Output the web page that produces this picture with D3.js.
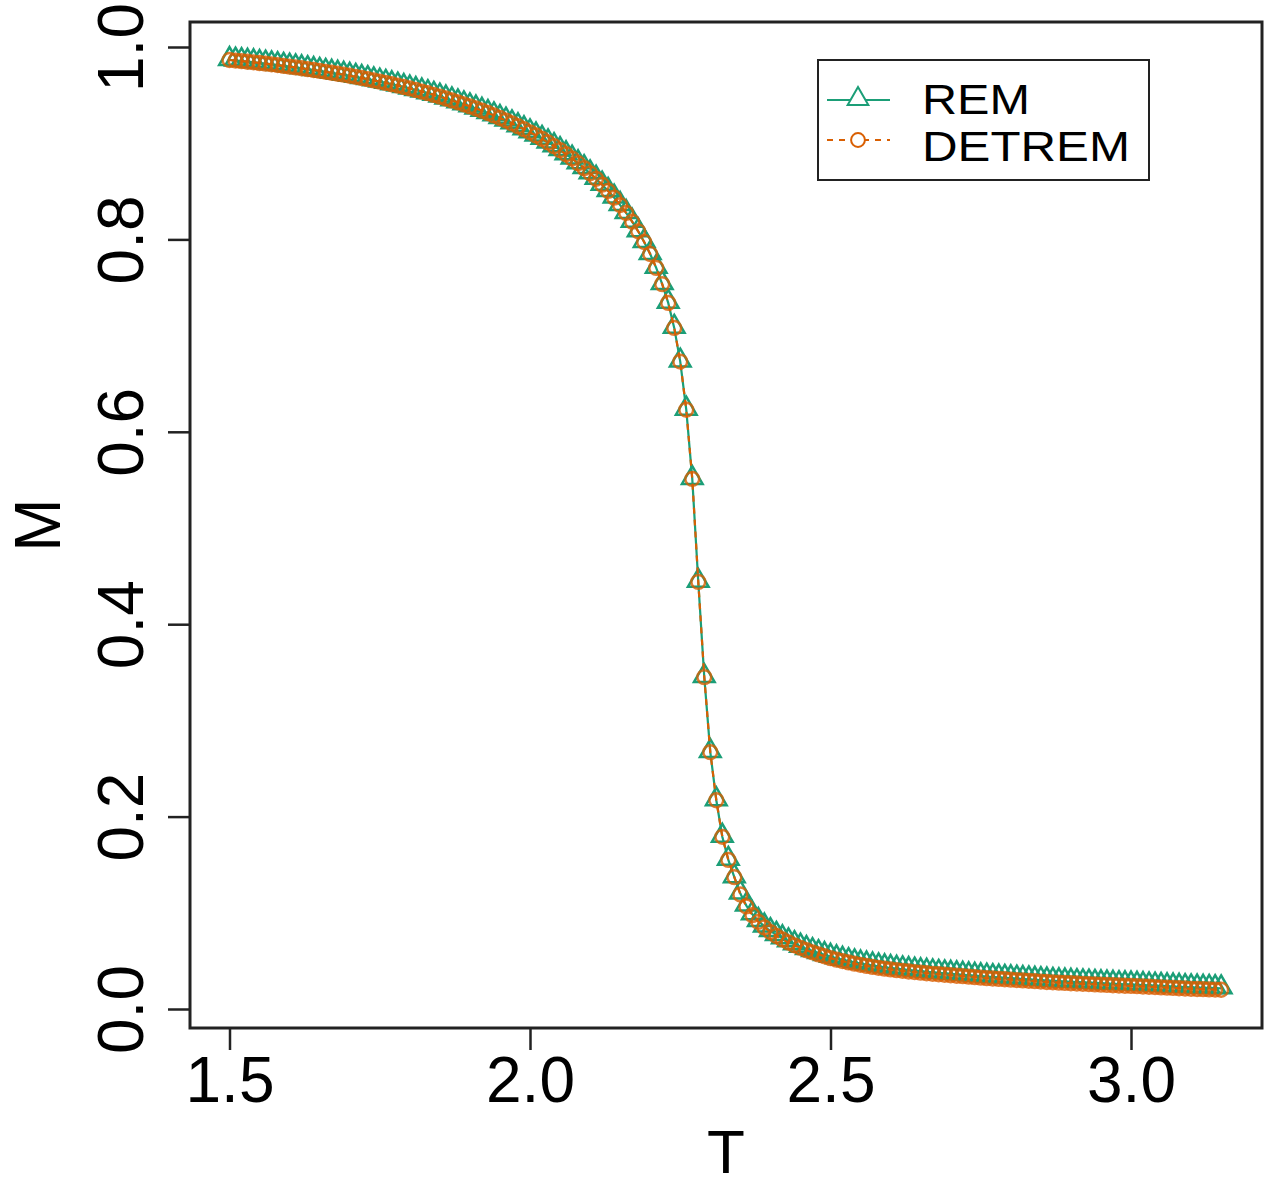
<!DOCTYPE html>
<html>
<head>
<meta charset="utf-8">
<script src="https://cdn.jsdelivr.net/npm/d3@7"></script>
<style>
  html, body { margin: 0; padding: 0; background: #ffffff; }
  svg { display: block; }
  text { font-family: "Liberation Sans", Arial, Helvetica, sans-serif; fill: #000; }
</style>
</head>
<body>
<svg id="chart" width="1272" height="1188"></svg>
<script>
// ---- data ----
const temperature = [
  1.50,1.51,1.52,1.53,1.54,1.55,1.56,1.57,1.58,1.59,
  1.60,1.61,1.62,1.63,1.64,1.65,1.66,1.67,1.68,1.69,
  1.70,1.71,1.72,1.73,1.74,1.75,1.76,1.77,1.78,1.79,
  1.80,1.81,1.82,1.83,1.84,1.85,1.86,1.87,1.88,1.89,
  1.90,1.91,1.92,1.93,1.94,1.95,1.96,1.97,1.98,1.99,
  2.00,2.01,2.02,2.03,2.04,2.05,2.06,2.07,2.08,2.09,
  2.10,2.11,2.12,2.13,2.14,2.15,2.16,2.17,2.18,2.19,
  2.20,2.21,2.22,2.23,2.24,2.25,2.26,2.27,2.28,2.29,
  2.30,2.31,2.32,2.33,2.34,2.35,2.36,2.37,2.38,2.39,
  2.40,2.41,2.42,2.43,2.44,2.45,2.46,2.47,2.48,2.49,
  2.50,2.51,2.52,2.53,2.54,2.55,2.56,2.57,2.58,2.59,
  2.60,2.61,2.62,2.63,2.64,2.65,2.66,2.67,2.68,2.69,
  2.70,2.71,2.72,2.73,2.74,2.75,2.76,2.77,2.78,2.79,
  2.80,2.81,2.82,2.83,2.84,2.85,2.86,2.87,2.88,2.89,
  2.90,2.91,2.92,2.93,2.94,2.95,2.96,2.97,2.98,2.99,
  3.00,3.01,3.02,3.03,3.04,3.05,3.06,3.07,3.08,3.09,
  3.10,3.11,3.12,3.13,3.14,3.15
];

const remM = [
  0.9865,0.9859,0.9853,0.9847,0.9841,0.9834,0.9827,0.9820,0.9812,0.9804,
  0.9796,0.9788,0.9779,0.9770,0.9761,0.9752,0.9742,0.9732,0.9722,0.9712,
  0.9701,0.9690,0.9678,0.9666,0.9653,0.9640,0.9627,0.9613,0.9599,0.9584,
  0.9569,0.9553,0.9537,0.9520,0.9502,0.9484,0.9465,0.9445,0.9425,0.9404,
  0.9383,0.9361,0.9338,0.9314,0.9289,0.9262,0.9235,0.9206,0.9176,0.9145,
  0.9113,0.9080,0.9045,0.9008,0.8969,0.8928,0.8885,0.8840,0.8792,0.8741,
  0.8687,0.8630,0.8569,0.8504,0.8434,0.8357,0.8275,0.8184,0.8084,0.7973,
  0.7848,0.7704,0.7535,0.7340,0.7080,0.6730,0.6230,0.5510,0.4440,0.3450,
  0.2670,0.2170,0.1790,0.1550,0.1370,0.1200,0.1075,0.0985,0.0915,0.0858,
  0.0810,0.0770,0.0735,0.0703,0.0674,0.0648,0.0624,0.0602,0.0581,0.0561,
  0.0543,0.0527,0.0512,0.0498,0.0485,0.0473,0.0462,0.0452,0.0443,0.0434,
  0.0426,0.0419,0.0412,0.0405,0.0399,0.0393,0.0387,0.0381,0.0376,0.0371,
  0.0366,0.0361,0.0356,0.0351,0.0346,0.0341,0.0336,0.0332,0.0328,0.0324,
  0.0320,0.0316,0.0312,0.0308,0.0304,0.0300,0.0296,0.0292,0.0289,0.0286,
  0.0283,0.0280,0.0277,0.0274,0.0271,0.0268,0.0265,0.0262,0.0259,0.0257,
  0.0255,0.0252,0.0249,0.0246,0.0243,0.0240,0.0237,0.0234,0.0231,0.0228,
  0.0225,0.0223,0.0221,0.0219,0.0217,0.0215
];

const detremM = [
  0.9865,0.9859,0.9853,0.9847,0.9841,0.9834,0.9827,0.9820,0.9812,0.9804,
  0.9796,0.9788,0.9779,0.9770,0.9761,0.9752,0.9742,0.9732,0.9722,0.9712,
  0.9701,0.9690,0.9678,0.9666,0.9653,0.9640,0.9627,0.9613,0.9599,0.9584,
  0.9569,0.9553,0.9537,0.9520,0.9502,0.9484,0.9465,0.9445,0.9425,0.9404,
  0.9383,0.9361,0.9338,0.9314,0.9289,0.9262,0.9235,0.9206,0.9176,0.9145,
  0.9113,0.9080,0.9045,0.9008,0.8969,0.8928,0.8885,0.8840,0.8792,0.8741,
  0.8687,0.8630,0.8569,0.8504,0.8434,0.8357,0.8275,0.8184,0.8084,0.7973,
  0.7848,0.7704,0.7535,0.7340,0.7080,0.6730,0.6230,0.5510,0.4440,0.3450,
  0.2670,0.2170,0.1790,0.1550,0.1370,0.1190,0.1066,0.0976,0.0905,0.0848,
  0.0800,0.0759,0.0723,0.0691,0.0662,0.0636,0.0611,0.0589,0.0568,0.0548,
  0.0529,0.0513,0.0498,0.0484,0.0471,0.0459,0.0448,0.0438,0.0428,0.0419,
  0.0411,0.0404,0.0397,0.0390,0.0384,0.0378,0.0372,0.0366,0.0361,0.0356,
  0.0351,0.0346,0.0341,0.0336,0.0331,0.0326,0.0321,0.0317,0.0313,0.0309,
  0.0305,0.0301,0.0297,0.0293,0.0289,0.0285,0.0281,0.0277,0.0274,0.0271,
  0.0268,0.0265,0.0262,0.0259,0.0256,0.0253,0.0250,0.0247,0.0244,0.0242,
  0.0240,0.0237,0.0234,0.0231,0.0228,0.0225,0.0222,0.0219,0.0216,0.0213,
  0.0210,0.0208,0.0206,0.0204,0.0202,0.0200
];

const xTicks = [1.5, 2.0, 2.5, 3.0];
const xTickLabels = ["1.5", "2.0", "2.5", "3.0"];
const yTicks = [0.0, 0.2, 0.4, 0.6, 0.8, 1.0];
const yTickLabels = ["0.0", "0.2", "0.4", "0.6", "0.8", "1.0"];
const seriesNames = ["REM", "DETREM"];
const seriesColors = ["#1B9E77", "#D95F02"];

// ---- layout ----
const box = { left: 190, right: 1262, top: 22, bottom: 1028 };
const svg = d3.select("#chart");

const x = d3.scaleLinear().domain([1.5, 3.0]).range([229.5, 1131]);
const y = d3.scaleLinear().domain([0, 1]).range([1009, 47]);

// plot box
svg.append("rect")
  .attr("x", box.left).attr("y", box.top)
  .attr("width", box.right - box.left).attr("height", box.bottom - box.top)
  .attr("fill", "none").attr("stroke", "#222").attr("stroke-width", 3);

// x axis
const xAxis = d3.axisBottom(x).tickValues(xTicks)
  .tickFormat((d, i) => xTickLabels[i]).tickSize(22).tickSizeOuter(0);
const gx = svg.append("g").attr("transform", `translate(0,${box.bottom})`).call(xAxis);
gx.select(".domain").remove();
gx.selectAll(".tick line").attr("stroke", "#222").attr("stroke-width", 2.5);
gx.selectAll(".tick text")
  .attr("y", 0).attr("dy", null)
  .attr("transform", "translate(0,74)")
  .style("font-size", "64px")
  .style("font-family", '"Liberation Sans", Arial, sans-serif')
  .attr("fill", "#000");

// y axis
const yAxis = d3.axisLeft(y).tickValues(yTicks)
  .tickFormat((d, i) => yTickLabels[i]).tickSize(22).tickSizeOuter(0);
const gy = svg.append("g").attr("transform", `translate(${box.left},0)`).call(yAxis);
gy.select(".domain").remove();
gy.selectAll(".tick line").attr("stroke", "#222").attr("stroke-width", 2.5);
gy.selectAll(".tick text")
  .attr("x", 0).attr("dy", null)
  .attr("text-anchor", "middle")
  .attr("transform", "translate(-47,0) rotate(-90)")
  .style("font-size", "64px")
  .style("font-family", '"Liberation Sans", Arial, sans-serif')
  .attr("fill", "#000");

// axis titles
svg.append("text")
  .attr("x", (box.left + box.right) / 2).attr("y", 1173)
  .attr("text-anchor", "middle").style("font-size", "62px").text("T");
svg.append("text")
  .attr("transform", `translate(60,${(box.top + box.bottom) / 2}) rotate(-90)`)
  .attr("text-anchor", "middle").style("font-size", "64px").text("M");

// ---- series ----
const remData = temperature.map((t, i) => ({ t, m: remM[i] }));
const detData = temperature.map((t, i) => ({ t, m: detremM[i] }));

const line = d3.line().x(d => x(d.t)).y(d => y(d.m));

const tri = d3.symbol().type(d3.symbolTriangle).size(185);
const circ = d3.symbol().type(d3.symbolCircle).size(150);

const gPlot = svg.append("g");

// REM
gPlot.append("path").datum(remData)
  .attr("d", line).attr("fill", "none")
  .attr("stroke", seriesColors[0]).attr("stroke-width", 2.2);
gPlot.append("g").selectAll("path").data(remData).join("path")
  .attr("d", tri)
  .attr("transform", d => `translate(${x(d.t)},${y(d.m) - 1})`)
  .attr("fill", "none").attr("stroke", seriesColors[0]).attr("stroke-width", 2.5);

// DETREM
gPlot.append("path").datum(detData)
  .attr("d", line).attr("fill", "none")
  .attr("stroke", seriesColors[1]).attr("stroke-width", 2.2)
  .attr("stroke-dasharray", "6,6");
gPlot.append("g").selectAll("path").data(detData).join("path")
  .attr("d", circ)
  .attr("transform", d => `translate(${x(d.t)},${y(d.m)})`)
  .attr("fill", "none").attr("stroke", seriesColors[1]).attr("stroke-width", 2.5)
  .attr("stroke-opacity", 0.8);

// ---- legend ----
const lg = svg.append("g");
lg.append("rect")
  .attr("x", 818).attr("y", 60).attr("width", 331).attr("height", 120)
  .attr("fill", "#fff").attr("stroke", "#222").attr("stroke-width", 2);

const legendRows = [100, 140];
// REM row
lg.append("line").attr("x1", 827).attr("x2", 890)
  .attr("y1", legendRows[0]).attr("y2", legendRows[0])
  .attr("stroke", seriesColors[0]).attr("stroke-width", 2);
lg.append("path").attr("d", tri)
  .attr("transform", `translate(858,${legendRows[0] - 1})`)
  .attr("fill", "#fff").attr("stroke", seriesColors[0]).attr("stroke-width", 2);
// DETREM row
lg.append("line").attr("x1", 827).attr("x2", 890)
  .attr("y1", legendRows[1]).attr("y2", legendRows[1])
  .attr("stroke", seriesColors[1]).attr("stroke-width", 2)
  .attr("stroke-dasharray", "6,6");
lg.append("path").attr("d", circ)
  .attr("transform", `translate(858,${legendRows[1]})`)
  .attr("fill", "#fff").attr("stroke", seriesColors[1]).attr("stroke-width", 2);

const legendWidths = [108, 208];
const legendBaselines = [114, 161];
seriesNames.forEach((name, i) => {
  lg.append("text")
    .attr("x", 922).attr("y", legendBaselines[i])
    .style("font-size", "42px")
    .attr("textLength", legendWidths[i])
    .attr("lengthAdjust", "spacingAndGlyphs")
    .text(name);
});
</script>
</body>
</html>
